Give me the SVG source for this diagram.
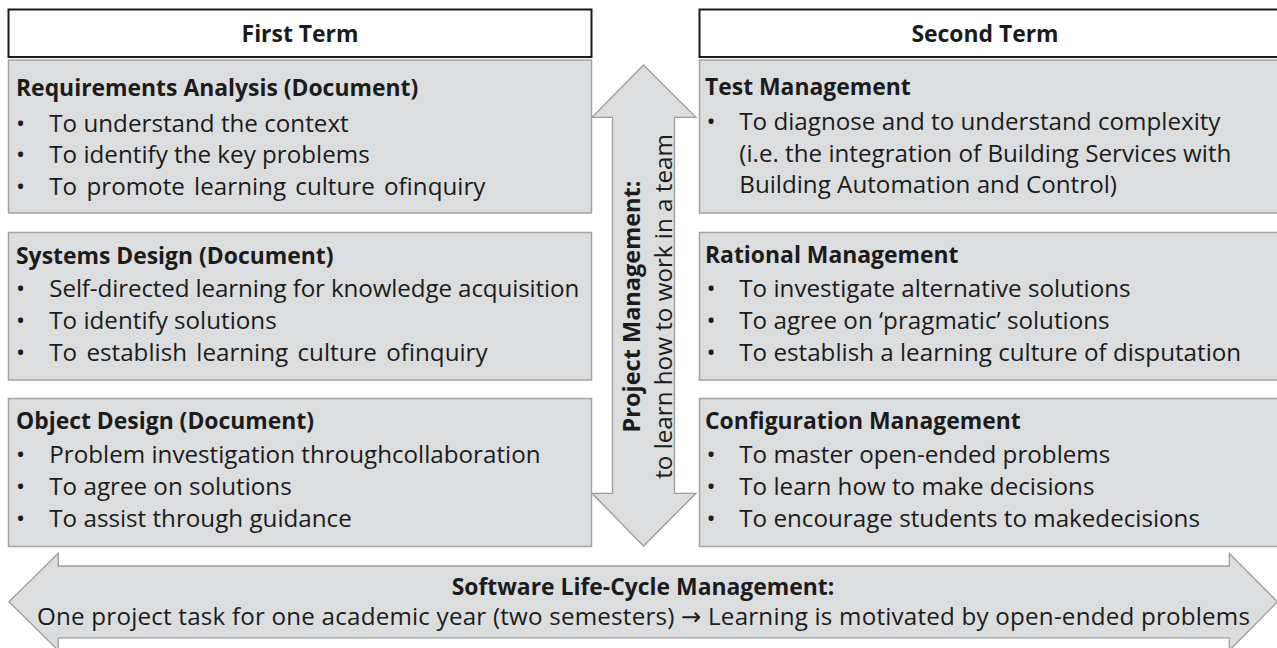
<svg xmlns="http://www.w3.org/2000/svg" width="1277" height="648" viewBox="0 0 1277 648">
<style>
text{font-family:"Open Sans","Liberation Sans",sans-serif;font-size:24.2px;fill:#1b1b1b}
.b{font-weight:bold;font-size:22.9px}
.c{text-anchor:middle}
.sym{font-family:"DejaVu Sans",sans-serif}
.ws{word-spacing:3px}
.hdr{fill:#ffffff;stroke:#1a1a1a;stroke-width:2}
.box{fill:#dcdddf;stroke:#a3a3a3;stroke-width:1.5}
.arr{fill:#dcdddf;stroke:#9c9c9c;stroke-width:1.3;stroke-linejoin:miter}
</style>
<rect width="1277" height="648" fill="#ffffff"/>

<g id="connectors">
  <g id="arrow-project-management">
    <path class="arr" d="M643.5,65 L696,117.3 L674.5,117.3 L674.5,493.3 L696,493.3 L643.5,546 L592,493.3 L612.5,493.3 L612.5,117.3 L592,117.3 Z"/>
    <text class="b c" transform="translate(640,306.5) rotate(-90)" style="font-size:23.5px">Project Management:</text>
    <text class="c" transform="translate(672,306.5) rotate(-90)">to learn how to work in a team</text>
  </g>
  <g id="arrow-lifecycle">
    <path class="arr" d="M9,601.8 L58.3,553.3 L58.3,566 L1229.3,566 L1229.3,553.3 L1277.5,601.8 L1229.3,650.5 L1229.3,637.8 L58.3,637.8 L58.3,650.5 Z"/>
    <text class="b c" x="643" y="594.5">Software Life-Cycle Management:</text>
    <text class="c" x="643.5" y="625" textLength="1213">One project task for one academic year (two semesters) <tspan class="sym">→</tspan> Learning is motivated by open-ended problems</text>
  </g>
</g>

<g id="first-term">
  <rect class="hdr" x="8.5" y="9.5" width="583" height="47.5"/>
  <text class="b c" x="300" y="41.5">First Term</text>
</g>
<g id="second-term">
  <rect class="hdr" x="699.5" y="9.5" width="590" height="47.5"/>
  <text class="b c" x="985" y="41.5">Second Term</text>
</g>

<g id="requirements-analysis">
  <rect class="box" x="8.5" y="60" width="583" height="153"/>
  <text class="b" x="16" y="96">Requirements Analysis (Document)</text>
  <text class="c" x="20.5" y="131.5">•</text><text x="49.3" y="131.5">To understand the context</text>
  <text class="c" x="20.5" y="163.3">•</text><text x="49.3" y="163.3">To identify the key problems</text>
  <text class="c" x="20.5" y="195">•</text><text class="ws" x="49.3" y="195">To promote learning culture ofinquiry</text>
</g>
<g id="systems-design">
  <rect class="box" x="8.5" y="232.5" width="583" height="147.5"/>
  <text class="b" x="16" y="263.5">Systems Design (Document)</text>
  <text class="c" x="20.5" y="297">•</text><text x="49.3" y="297" textLength="530">Self-directed learning for knowledge acquisition</text>
  <text class="c" x="20.5" y="329">•</text><text x="49.3" y="329">To identify solutions</text>
  <text class="c" x="20.5" y="361">•</text><text class="ws" x="49.3" y="361">To establish learning culture ofinquiry</text>
</g>
<g id="object-design">
  <rect class="box" x="8.5" y="398.5" width="583" height="148"/>
  <text class="b" x="16" y="429.3">Object Design (Document)</text>
  <text class="c" x="20.5" y="462.7">•</text><text x="49.3" y="462.7">Problem investigation throughcollaboration</text>
  <text class="c" x="20.5" y="495">•</text><text x="49.3" y="495">To agree on solutions</text>
  <text class="c" x="20.5" y="526.7">•</text><text x="49.3" y="526.7">To assist through guidance</text>
</g>

<g id="test-management">
  <rect class="box" x="699.5" y="60" width="590" height="153"/>
  <text class="b" x="705" y="95">Test Management</text>
  <text class="c" x="711" y="129.5">•</text><text x="739.3" y="129.5">To diagnose and to understand complexity</text>
  <text x="739.3" y="161.7">(i.e. the integration of Building Services with</text>
  <text x="739.3" y="193.3">Building Automation and Control)</text>
</g>
<g id="rational-management">
  <rect class="box" x="699.5" y="232.5" width="590" height="147.5"/>
  <text class="b" x="705" y="263">Rational Management</text>
  <text class="c" x="711" y="296.5">•</text><text x="739.3" y="296.5">To investigate alternative solutions</text>
  <text class="c" x="711" y="329">•</text><text x="739.3" y="329">To agree on ‘pragmatic’ solutions</text>
  <text class="c" x="711" y="360.5">•</text><text x="739.3" y="360.5">To establish a learning culture of disputation</text>
</g>
<g id="configuration-management">
  <rect class="box" x="699.5" y="398.5" width="590" height="148"/>
  <text class="b" x="705" y="429.3">Configuration Management</text>
  <text class="c" x="711" y="462.7">•</text><text x="739.3" y="462.7">To master open-ended problems</text>
  <text class="c" x="711" y="495">•</text><text x="739.3" y="495">To learn how to make decisions</text>
  <text class="c" x="711" y="526.7">•</text><text x="739.3" y="526.7">To encourage students to makedecisions</text>
</g>
</svg>
